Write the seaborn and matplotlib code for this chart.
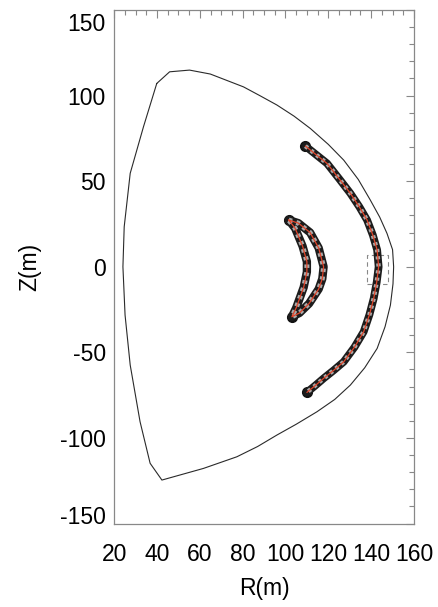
import numpy as np
import pandas as pd
import seaborn as sns
import matplotlib
matplotlib.use('Agg')
import matplotlib.pyplot as plt
import matplotlib.transforms as mtransforms
from matplotlib.ticker import MultipleLocator

# Last closed flux surface (R, Z in m)
bound_r = [39.9, 45.9, 55.2, 64.9, 80.4, 88.0, 96.0, 104.0, 111.6, 120.0, 127.2, 134.0,
           139.6, 144.0, 147.4, 150.0, 150.5, 150.2, 149.0, 146.5, 142.8, 137.0, 130.3,
           123.0, 114.7, 105.0, 96.0, 87.0, 77.3, 61.7, 42.3, 36.8, 32.1, 27.5, 25.1,
           24.1, 24.7, 27.5, 33.7, 39.9]
bound_z = [107.1, 113.9, 114.9, 112.6, 105.1, 100.0, 94.5, 88.0, 80.8, 71.5, 62.3, 51.0,
           39.0, 29.0, 19.5, 10.0, 0.0, -10.0, -22.4, -35.0, -47.7, -59.0, -69.1,
           -77.5, -84.7, -92.0, -98.3, -105.0, -111.0, -117.8, -124.6, -114.8, -90.5,
           -57.4, -28.2, 0.0, 23.4, 54.6, 81.8, 107.1]

# outer orbit band (centre line)
orb1_r = [109.3, 114.0, 119.4, 125.0, 130.3, 134.5, 138.1, 140.8, 142.8, 143.5, 142.6,
          141.2, 139.2, 136.5, 132.2, 127.2, 122.5, 117.8, 113.8, 110.0]
orb1_z = [70.5, 65.8, 60.4, 51.5, 42.9, 35.0, 27.3, 18.5, 9.8, 0.0, -9.0, -18.5, -28.0,
          -38.0, -47.0, -55.5, -60.5, -65.2, -69.5, -73.4]

# inner crescent orbit (closed loop)
orb2_r = [101.5, 106.0, 111.5, 115.5, 117.8, 117.2, 115.5, 111.0, 106.5, 103.0,
          105.0, 108.5, 110.0, 110.0, 108.0, 104.5, 101.5]
orb2_z = [27.3, 25.5, 20.0, 11.0, 0.0, -7.0, -13.0, -21.5, -27.0, -29.2,
          -24.0, -12.0, -3.0, 3.0, 12.0, 22.5, 27.3]

# dashed box
box_r = [138.0, 148.0, 148.0, 138.0, 138.0]
box_z = [-10.0, -10.0, 7.0, 7.0, -10.0]

z_ticks = [-150, -100, -50, 0, 50, 100, 150]
r_ticks = [20, 40, 60, 80, 100, 120, 140, 160]

sns.set_style('white')
plt.rcParams['font.family'] = ['Liberation Sans', 'DejaVu Sans']
plt.rcParams['axes.unicode_minus'] = False

fig = plt.figure(figsize=(4.39, 6.07), dpi=100)
ax = fig.add_axes([0.26, 0.1375, 0.683, 0.846])

sns.lineplot(x=bound_r, y=bound_z, sort=False, estimator=None, color='#2a2a2a',
             linewidth=0.8, ax=ax)
ax.plot(box_r, box_z, color='#888888', lw=0.8, dashes=(4, 3))

for rr, zz, w in [(orb1_r, orb1_z, 5.6), (orb2_r, orb2_z, 6.0)]:
    ax.plot(rr, zz, color='#1c1c1c', lw=w, solid_capstyle='round',
            solid_joinstyle='round')
    ax.plot(rr, zz, color='#a9a9a9', lw=w - 2.4, dashes=(0.7, 0.9))
    ax.plot(rr, zz, color='#e0452a', lw=0.9, solid_joinstyle='round')
ax.plot([orb1_r[0], orb1_r[-1], orb2_r[0], orb2_r[9]],
        [orb1_z[0], orb1_z[-1], orb2_z[0], orb2_z[9]],
        'o', color='#111111', ms=7, ls='none', zorder=1.5)

ax.set_xlim(20, 160)
ax.set_ylim(-150, 150)
ax.set_xticks(r_ticks)
ax.set_yticks(z_ticks)
ax.xaxis.set_minor_locator(MultipleLocator(5))
ax.yaxis.set_minor_locator(MultipleLocator(10))
ax.tick_params(which='both', direction='in', top=True, right=True, color='#888888',
               labelsize=16.5, labelcolor='black')
ax.tick_params(which='major', length=6, width=0.8)
ax.tick_params(which='minor', length=3.5, width=0.8)
ax.tick_params(axis='x', pad=14)
ax.tick_params(axis='y', pad=6)
for s in ax.spines.values():
    s.set_color('#888888')
    s.set_linewidth(0.9)

# end labels of the Z axis sit a little inside the frame, as in the original
yt = ax.yaxis.get_major_ticks()
yt[0].label1.set_transform(yt[0].label1.get_transform() +
                           mtransforms.ScaledTranslation(0, 6 / 72, fig.dpi_scale_trans))
yt[-1].label1.set_transform(yt[-1].label1.get_transform() +
                            mtransforms.ScaledTranslation(0, -8.5 / 72, fig.dpi_scale_trans))

ax.set_xlabel('R(m)', fontsize=16.5, color='black')
ax.set_ylabel('Z(m)', fontsize=16.5, color='black')
ax.xaxis.set_label_coords(0.5, -0.105)
ax.yaxis.set_label_coords(-0.243, 0.5)

fig.savefig('out.png', dpi=100)
